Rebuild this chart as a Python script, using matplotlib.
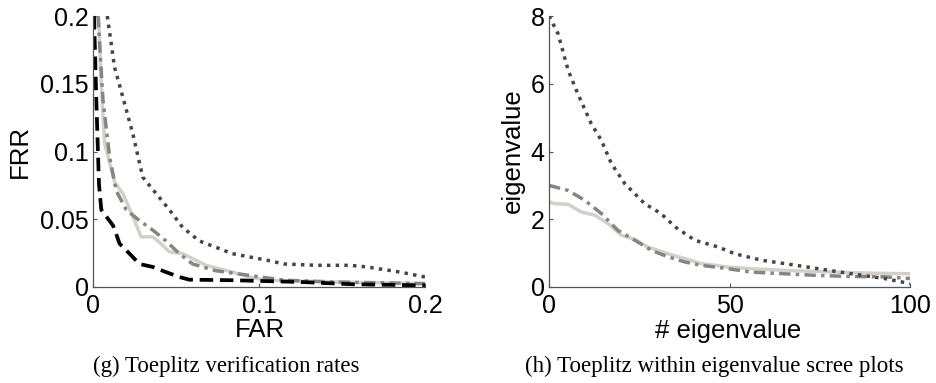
import matplotlib
matplotlib.use("Agg")
import matplotlib.pyplot as plt

# --- verification rates (FAR vs FRR) ---
far_a = [0.0006, 0.002, 0.0036, 0.005, 0.008, 0.012, 0.014, 0.016, 0.022, 0.028,
         0.036, 0.044, 0.052, 0.058, 0.084, 0.125, 0.157, 0.2]
frr_a = [0.2, 0.138, 0.076, 0.057, 0.052, 0.0455, 0.039, 0.032, 0.0246, 0.017,
         0.0148, 0.011, 0.0074, 0.0054, 0.005, 0.0037, 0.002, 0.0012]

far_b = [0.0086, 0.013, 0.018, 0.024, 0.030, 0.038, 0.046, 0.054, 0.064, 0.084,
         0.105, 0.115, 0.135, 0.155, 0.165, 0.185, 0.2]
frr_b = [0.2, 0.162, 0.140, 0.113, 0.081, 0.069, 0.057, 0.044, 0.034, 0.0246,
         0.0197, 0.017, 0.016, 0.016, 0.0148, 0.011, 0.0074]

far_c = [0.0030, 0.006, 0.010, 0.014, 0.020, 0.028, 0.036, 0.044, 0.052, 0.060,
         0.074, 0.094, 0.115, 0.145, 0.2]
frr_c = [0.2, 0.138, 0.096, 0.071, 0.057, 0.049, 0.042, 0.034, 0.0246, 0.017,
         0.012, 0.0086, 0.005, 0.0037, 0.0025]

far_d = [0.0034, 0.005, 0.007, 0.013, 0.018, 0.024, 0.029, 0.036, 0.040, 0.046,
         0.054, 0.060, 0.068, 0.084, 0.094, 0.105, 0.145, 0.2]
frr_d = [0.2, 0.150, 0.106, 0.0775, 0.069, 0.052, 0.037, 0.037, 0.033, 0.026,
         0.0246, 0.021, 0.016, 0.011, 0.0074, 0.005, 0.0037, 0.0025]

# --- within-class eigenvalue scree ---
idx_b = [0, 2.5, 5.3, 8, 11.7, 14.5, 17.3, 21, 26.5, 31, 35, 40.4, 46.9, 51.5,
         58.9, 65.3, 74.6, 83.8, 93, 100]
eig_b = [8.0, 7.48, 6.4, 5.7, 4.82, 4.33, 3.64, 3.05, 2.46, 2.17, 1.77, 1.38,
         1.18, 0.98, 0.79, 0.69, 0.54, 0.39, 0.25, 0.1]

idx_c = [0, 5.3, 9.9, 14.5, 19.1, 23.8, 28.4, 33, 37.6, 42.2, 49.6, 56, 65.3,
         74.6, 83.8, 93, 100]
eig_c = [3.0, 2.85, 2.56, 2.17, 1.67, 1.38, 1.08, 0.89, 0.74, 0.64, 0.54, 0.44,
         0.39, 0.34, 0.31, 0.30, 0.25]

idx_d = [0, 1.6, 5.3, 9, 12.7, 16.4, 20, 23.8, 27.4, 33, 37.6, 42.2, 49.6, 56,
         65.3, 79.2, 88.4, 100]
eig_d = [2.51, 2.46, 2.44, 2.21, 2.12, 1.87, 1.53, 1.40, 1.18, 0.98, 0.84, 0.69,
         0.59, 0.54, 0.49, 0.44, 0.41, 0.39]

frr_ticks = [0, 0.05, 0.1, 0.15, 0.2]
frr_ticklabels = ["0", "0.05", "0.1", "0.15", "0.2"]
far_ticks = [0, 0.1, 0.2]
far_ticklabels = ["0", "0.1", "0.2"]
eig_ticks = [0, 2, 4, 6, 8]
num_ticks = [0, 50, 100]

plt.rcParams["font.family"] = ["Liberation Sans", "DejaVu Sans"]

DASHED = dict(color="black", lw=2.7, linestyle=(0, (3.6, 1.8)))
DOTTED = dict(color="#454545", lw=2.5, linestyle=(0, (1, 1.5)))
DASHDOT = dict(color="#858585", lw=2.5, linestyle=(0, (3.3, 1.5, 1, 1.5)))
SOLID = dict(color="#d2d0c8", lw=2.5, linestyle="-")


def style_axes(ax):
    for s in ("top", "right"):
        ax.spines[s].set_visible(False)
    for s in ("left", "bottom"):
        ax.spines[s].set_color("#555555")
        ax.spines[s].set_linewidth(0.9)
    ax.tick_params(direction="in", length=3, width=0.8, color="#555555",
                   labelsize=18, pad=3)
    ax.tick_params(axis="x", pad=5)


W, H = 936, 383
fig = plt.figure(figsize=(W / 100, H / 100), dpi=100)

ax1 = fig.add_axes([93 / W, 1 - 287 / H, 332 / W, 271 / H])
ax1.plot(far_d, frr_d, **SOLID)
ax1.plot(far_c, frr_c, **DASHDOT)
ax1.plot(far_b, frr_b, **DOTTED)
ax1.plot(far_a, frr_a, **DASHED)
ax1.set_xlim(0, 0.2)
ax1.set_ylim(0, 0.2)
ax1.set_xticks(far_ticks)
ax1.set_xticklabels(far_ticklabels)
ax1.set_yticks(frr_ticks)
ax1.set_yticklabels(frr_ticklabels)
style_axes(ax1)

ax2 = fig.add_axes([549 / W, 1 - 287 / H, 361 / W, 271 / H])
ax2.plot(idx_d, eig_d, **SOLID)
ax2.plot(idx_c, eig_c, **DASHDOT)
ax2.plot(idx_b, eig_b, **DOTTED)
ax2.set_xlim(0, 100)
ax2.set_ylim(0, 8)
ax2.set_xticks(num_ticks)
ax2.set_yticks(eig_ticks)
style_axes(ax2)

# axis titles and sub-captions
fig.text(20 / W, 1 - 152 / H, "FRR", rotation=90, ha="center", va="center", fontsize=18.5)
fig.text(260 / W, 1 - 330 / H, "FAR", ha="center", va="center", fontsize=18.5)
fig.text(513 / W, 1 - 151 / H, "eigenvalue", rotation=90, ha="center", va="center", fontsize=18.5)
fig.text(728 / W, 1 - 331 / H, "# eigenvalue", ha="center", va="center", fontsize=18.5)

cap = dict(family=["Liberation Serif", "DejaVu Serif"], fontsize=16.5, ha="center", va="baseline")
fig.text(226 / W, 1 - 372 / H, "(g) Toeplitz verification rates", **cap)
fig.text(714 / W, 1 - 372 / H, "(h) Toeplitz within eigenvalue scree plots", **cap)

fig.savefig("out.png", dpi=100)
